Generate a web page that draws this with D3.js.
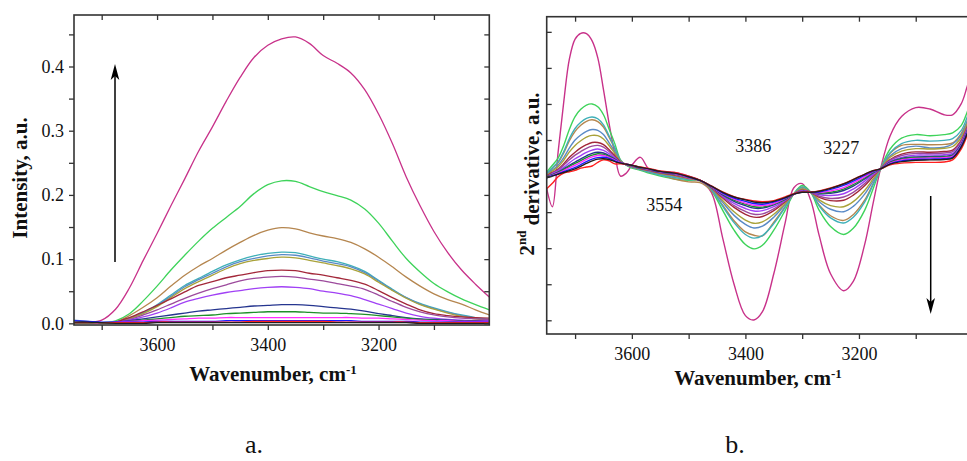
<!DOCTYPE html>
<html>
<head>
<meta charset="utf-8">
<script src="https://cdn.jsdelivr.net/npm/d3@7"></script>
<style>
  html, body { margin: 0; padding: 0; background: #fff; }
  svg { display: block; font-family: "Liberation Serif", "Times New Roman", serif; }
</style>
</head>
<body>
<svg id="fig" width="967" height="461"></svg>
<script>
// ---------- wavenumber grids (cm-1) ----------
const waveA = [3750,3725,3700,3675,3650,3625,3600,3575,3550,3525,3500,3475,3450,3425,3400,3375,
               3350,3325,3300,3275,3250,3225,3200,3175,3150,3125,3100,3075,3050,3025,3000];
const waveB = [3750,3740,3730,3720,3710,3700,3690,3680,3670,3660,3650,3640,3630,3620,3610,3600,
               3585,3570,3550,3525,3500,3480,3460,3440,3420,3400,3385,3370,3350,3330,3315,3300,
               3285,3270,3250,3227,3210,3190,3175,3162,3145,3125,3100,3075,3050,3035,3020,3010,3000];

// ---------- series colours (same order in both panels) ----------
const seriesColors = ["#c8328a","#3ed35a","#b5864f","#3fb0b8","#5a8ac6","#a9a23a","#a3283a","#9c4a9c",
                      "#a040f5","#25358f","#1f8f2a","#ff2cff","#1a1aff","#ff2020","#202020"];

// ---------- panel a: intensity, a.u. ----------
const intens01 = [0.000,0.001,0.005,0.022,0.055,0.098,0.140,0.183,0.225,0.268,0.306,0.346,0.383,0.414,0.433,0.443,
                  0.446,0.436,0.417,0.405,0.390,0.364,0.326,0.280,0.228,0.183,0.143,0.110,0.083,0.061,0.041];
const intens02 = [0,0,0.001,0.004,0.015,0.035,0.058,0.083,0.106,0.128,0.148,0.165,0.182,0.202,0.216,0.222,
                  0.221,0.213,0.205,0.199,0.192,0.178,0.156,0.128,0.101,0.080,0.062,0.049,0.038,0.029,0.021];
const intens03 = [0,0,0,0.002,0.012,0.025,0.040,0.058,0.075,0.089,0.101,0.114,0.126,0.137,0.145,0.149,
                  0.147,0.141,0.136,0.132,0.126,0.116,0.103,0.088,0.072,0.058,0.046,0.037,0.030,0.021,0.013];
const intens04 = [0,0,0,0.002,0.008,0.017,0.029,0.044,0.059,0.070,0.081,0.091,0.099,0.105,0.109,0.111,
                  0.110,0.105,0.100,0.096,0.090,0.081,0.067,0.053,0.040,0.031,0.024,0.018,0.013,0.009,0.006];
const intens05 = [0.005,0.003,0.001,0.002,0.008,0.016,0.028,0.042,0.057,0.068,0.078,0.088,0.096,0.101,0.105,0.107,
                  0.106,0.102,0.097,0.093,0.088,0.079,0.066,0.052,0.040,0.030,0.023,0.017,0.012,0.008,0.005];
const intens06 = [0,0,0,0.001,0.007,0.015,0.026,0.040,0.054,0.065,0.075,0.085,0.093,0.098,0.101,0.103,
                  0.102,0.098,0.094,0.090,0.085,0.077,0.064,0.051,0.039,0.029,0.022,0.016,0.011,0.007,0.005];
const intens07 = [0,0,0,0.002,0.009,0.018,0.028,0.038,0.049,0.059,0.065,0.071,0.075,0.079,0.082,0.083,
                  0.082,0.078,0.075,0.071,0.067,0.061,0.051,0.040,0.030,0.021,0.015,0.012,0.010,0.009,0.008];
const intens08 = [0,0,0,0.001,0.006,0.013,0.021,0.030,0.039,0.047,0.054,0.060,0.066,0.070,0.072,0.073,
                  0.072,0.069,0.066,0.062,0.058,0.053,0.044,0.034,0.025,0.018,0.013,0.010,0.008,0.007,0.006];
const intens09 = [0,0,0,0.001,0.005,0.010,0.016,0.024,0.033,0.039,0.044,0.048,0.051,0.054,0.056,0.057,
                  0.056,0.054,0.050,0.047,0.043,0.037,0.030,0.023,0.016,0.011,0.008,0.006,0.005,0.004,0.004];
const intens10 = [0.001,0.001,0.001,0.002,0.004,0.007,0.010,0.013,0.016,0.019,0.021,0.023,0.025,0.027,0.028,0.029,
                  0.029,0.028,0.026,0.024,0.022,0.019,0.015,0.012,0.009,0.007,0.006,0.005,0.004,0.004,0.003];
const intens11 = [0,0,0,0.001,0.003,0.005,0.007,0.009,0.011,0.012,0.013,0.015,0.016,0.017,0.018,0.018,
                  0.018,0.017,0.016,0.016,0.015,0.014,0.012,0.010,0.008,0.006,0.005,0.004,0.003,0.003,0.002];
const intens12 = [0.001,0.001,0.001,0.002,0.003,0.004,0.005,0.006,0.007,0.008,0.008,0.009,0.009,0.009,0.009,0.009,
                  0.009,0.009,0.009,0.009,0.009,0.008,0.008,0.007,0.006,0.005,0.004,0.004,0.003,0.003,0.003];
const intens13 = [0.004,0.003,0.002,0.002,0.002,0.002,0.003,0.003,0.003,0.003,0.003,0.004,0.004,0.004,0.004,0.004,
                  0.004,0.004,0.004,0.004,0.004,0.003,0.003,0.003,0.003,0.002,0.002,0.002,0.002,0.002,0.002];
const intens14 = [0.001,0.001,0.001,0.001,0.001,0.001,0.002,0.002,0.002,0.002,0.002,0.002,0.002,0.003,0.003,0.003,
                  0.003,0.003,0.003,0.002,0.002,0.002,0.002,0.002,0.002,0.001,0.001,0.001,0.001,0.001,0.001];
const intens15 = [0.002,0.002,0.001,0,0,0,0.001,0.001,0.001,0.001,0.001,0.001,0.001,0.001,0.001,0.001,
                  0.001,0.001,0.001,0.001,0.001,0.001,0.001,0.001,0.001,0,0,0,0,0,0];

// ---------- panel b: second derivative, a.u. ----------
const deriv01 = [-0.35,-0.85,0.65,2.05,3.25,3.80,3.96,3.95,3.75,3.28, 2.40,1.45,0.62,0.00,0.08,0.30,0.52,0.20,0.12,0.10,
                 0.00,-0.12,-0.45,-1.72,-3.00,-3.87,-3.99,-3.76,-2.71,-1.30, -0.33,-0.21,-0.67,-1.65,-2.71,-3.18,-2.92,-1.90,-0.75,0.20,
                 1.12,1.65,1.90,1.86,1.70,1.70,2.00,2.45,3.00];
const deriv02 = [0.11,0.30,0.50,0.85,1.30,1.65,1.85,1.97,2.00,1.92, 1.70,1.30,0.90,0.45,0.30,0.22,0.16,0.08,0.00,-0.08,
                 -0.12,-0.12,-0.40,-0.95,-1.50,-1.90,-2.02,-1.92,-1.50,-0.95, -0.50,-0.26,-0.45,-0.95,-1.40,-1.62,-1.45,-0.95,-0.35,0.20,
                 0.75,1.05,1.15,1.12,1.15,1.20,1.40,1.75,2.20];
const deriv03 = [0.06,0.22,0.37,0.64,0.98,1.24,1.41,1.52,1.56,1.51, 1.36,1.07,0.76,0.43,0.31,0.24,0.18,0.11,0.04,-0.08,
                 -0.16,-0.18,-0.40,-0.81,-1.24,-1.55,-1.64,-1.66,-1.28,-0.85, -0.50,-0.31,-0.45,-0.80,-1.10,-1.23,-1.07,-0.67,-0.21,0.20,
                 0.63,0.85,0.88,0.87,0.88,0.92,1.18,1.50,1.95];
const deriv04 = [0.07,0.23,0.40,0.68,1.04,1.32,1.49,1.60,1.64,1.59, 1.42,1.11,0.79,0.43,0.31,0.24,0.18,0.11,0.03,-0.04,
                 -0.10,-0.12,-0.37,-0.84,-1.29,-1.62,-1.72,-1.65,-1.32,-0.87, -0.50,-0.30,-0.45,-0.83,-1.16,-1.30,-1.14,-0.72,-0.24,0.20,
                 0.65,0.90,0.99,0.97,0.99,1.04,1.26,1.61,2.06];
const deriv05 = [0.04,0.17,0.30,0.51,0.78,1.00,1.14,1.24,1.29,1.27, 1.15,0.92,0.68,0.41,0.31,0.26,0.20,0.13,0.06,-0.01,
                 -0.08,-0.13,-0.35,-0.73,-1.09,-1.34,-1.44,-1.39,-1.14,-0.79, -0.50,-0.35,-0.45,-0.71,-0.92,-0.99,-0.84,-0.50,-0.13,0.20,
                 0.56,0.76,0.83,0.78,0.80,0.89,1.13,1.48,1.93];
const deriv06 = [0.02,0.14,0.25,0.44,0.67,0.85,0.98,1.08,1.13,1.12, 1.03,0.84,0.63,0.40,0.32,0.26,0.20,0.15,0.07,0.01,
                 -0.07,-0.13,-0.33,-0.68,-0.99,-1.22,-1.31,-1.27,-1.06,-0.76, -0.50,-0.36,-0.45,-0.66,-0.82,-0.85,-0.71,-0.40,-0.08,0.20,
                 0.52,0.69,0.76,0.75,0.77,0.82,1.07,1.42,1.87];
const deriv07 = [0.00,0.10,0.19,0.34,0.52,0.66,0.78,0.87,0.93,0.93, 0.87,0.73,0.56,0.39,0.32,0.27,0.21,0.16,0.09,0.03,
                 -0.05,-0.12,-0.32,-0.61,-0.87,-1.06,-1.14,-1.12,-0.96,-0.71, -0.50,-0.39,-0.45,-0.59,-0.68,-0.67,-0.53,-0.27,-0.01,0.20,
                 0.46,0.61,0.67,0.66,0.68,0.72,0.99,1.34,1.79];
const deriv08 = [-0.01,0.08,0.17,0.30,0.45,0.58,0.68,0.77,0.83,0.85, 0.80,0.68,0.53,0.38,0.32,0.28,0.22,0.17,0.10,0.04,
                 -0.05,-0.12,-0.31,-0.58,-0.82,-0.98,-1.06,-1.05,-0.91,-0.69, -0.50,-0.40,-0.45,-0.56,-0.62,-0.58,-0.45,-0.21,0.02,0.20,
                 0.44,0.57,0.63,0.62,0.64,0.68,0.96,1.31,1.76];
const deriv09 = [-0.02,0.06,0.14,0.24,0.37,0.48,0.57,0.66,0.72,0.75, 0.71,0.62,0.50,0.37,0.33,0.28,0.22,0.18,0.11,0.05,
                 -0.04,-0.12,-0.30,-0.55,-0.76,-0.90,-0.97,-0.96,-0.85,-0.67, -0.50,-0.41,-0.45,-0.52,-0.54,-0.49,-0.36,-0.14,0.06,0.20,
                 0.41,0.52,0.58,0.58,0.59,0.63,0.91,1.26,1.71];
const deriv10 = [-0.03,0.04,0.11,0.20,0.30,0.39,0.48,0.56,0.63,0.66, 0.64,0.57,0.47,0.37,0.33,0.29,0.23,0.18,0.11,0.06,
                 -0.03,-0.12,-0.30,-0.52,-0.70,-0.82,-0.89,-0.89,-0.80,-0.65, -0.50,-0.43,-0.45,-0.49,-0.48,-0.40,-0.28,-0.08,0.09,0.20,
                 0.39,0.49,0.53,0.54,0.55,0.59,0.88,1.23,1.68];
const deriv11 = [-0.03,0.03,0.10,0.18,0.27,0.35,0.43,0.51,0.58,0.62, 0.60,0.54,0.45,0.37,0.33,0.29,0.23,0.19,0.12,0.06,
                 -0.03,-0.12,-0.29,-0.50,-0.67,-0.78,-0.85,-0.86,-0.78,-0.64, -0.50,-0.43,-0.45,-0.47,-0.45,-0.36,-0.24,-0.05,0.10,0.20,
                 0.37,0.47,0.51,0.52,0.53,0.57,0.86,1.21,1.66];
const deriv12 = [-0.04,0.02,0.08,0.15,0.23,0.30,0.38,0.46,0.53,0.57, 0.57,0.52,0.44,0.37,0.33,0.30,0.24,0.19,0.12,0.07,
                 -0.03,-0.12,-0.29,-0.49,-0.64,-0.75,-0.81,-0.82,-0.76,-0.62, -0.50,-0.44,-0.45,-0.46,-0.41,-0.32,-0.19,-0.02,0.12,0.20,
                 0.36,0.45,0.49,0.50,0.51,0.55,0.84,1.19,1.64];
const deriv13 = [-0.05,0.01,0.06,0.12,0.18,0.24,0.32,0.40,0.47,0.51, 0.52,0.49,0.42,0.36,0.33,0.30,0.24,0.20,0.13,0.08,
                 -0.02,-0.12,-0.28,-0.47,-0.61,-0.70,-0.76,-0.78,-0.72,-0.61, -0.50,-0.44,-0.45,-0.44,-0.37,-0.26,-0.14,0.02,0.13,0.20,
                 0.34,0.42,0.46,0.47,0.48,0.52,0.82,1.17,1.62];
const deriv14 = [-0.35,-0.20,-0.02,0.08,0.12,0.16,0.22,0.25,0.28,0.38, 0.45,0.42,0.34,0.34,0.33,0.30,0.25,0.21,0.14,0.10,
                 0.00,-0.11,-0.27,-0.44,-0.57,-0.65,-0.69,-0.71,-0.68,-0.58, -0.49,-0.44,-0.44,-0.41,-0.33,-0.21,-0.09,0.05,0.15,0.20,
                 0.31,0.36,0.38,0.38,0.39,0.45,0.75,1.10,1.55];
const deriv15 = [-0.05,0.00,0.05,0.10,0.15,0.20,0.27,0.35,0.42,0.47, 0.48,0.46,0.40,0.36,0.33,0.30,0.24,0.20,0.13,0.08,
                 -0.02,-0.12,-0.28,-0.45,-0.58,-0.66,-0.72,-0.74,-0.70,-0.60, -0.50,-0.45,-0.45,-0.42,-0.34,-0.22,-0.10,0.05,0.15,0.20,
                 0.33,0.40,0.44,0.45,0.46,0.50,0.80,1.15,1.60];

const intensSeries = [intens01,intens02,intens03,intens04,intens05,intens06,intens07,intens08,
                      intens09,intens10,intens11,intens12,intens13,intens14,intens15];
const derivSeries  = [deriv01,deriv02,deriv03,deriv04,deriv05,deriv06,deriv07,deriv08,
                      deriv09,deriv10,deriv11,deriv12,deriv13,deriv14,deriv15];

// ---------- tick values ----------
const xTicks = [3700,3600,3500,3400,3300,3200,3100];
const xTickLabels = [3600,3400,3200];
const yTicksA = [0,0.05,0.1,0.15,0.2,0.25,0.3,0.35,0.4,0.45];
const yTickLabelsA = [0,0.1,0.2,0.3,0.4];
const yTicksB = [-4,-3,-2,-1,0,1,2,3,4];

const svg = d3.select("#fig");
const frameColor = "#333";

function styleAxis(g) {
  g.select(".domain").remove();
  g.selectAll(".tick line").attr("stroke", frameColor).attr("stroke-width", 1.3);
  g.selectAll(".tick text").attr("fill", "#111").style("font-size", "18px")
    .style("font-family", '"Liberation Serif", "Times New Roman", serif');
}

function drawPanel(opt) {
  const { box, x, y, series, waves, yTicks, yLabels, leftOutward, clipId, lineWidth } = opt;
  const g = svg.append("g");

  g.append("clipPath").attr("id", clipId)
    .append("rect").attr("x", box.left).attr("y", box.top)
    .attr("width", box.right - box.left).attr("height", box.bottom - box.top);

  // curves
  const line = d3.line()
    .x((d) => x(d[0]))
    .y((d) => y(d[1]))
    .curve(d3.curveCatmullRom.alpha(0.5));
  const curves = g.append("g").attr("clip-path", `url(#${clipId})`);
  series.forEach((vals, i) => {
    curves.append("path")
      .datum(waves.map((w, j) => [w, vals[j]]))
      .attr("fill", "none")
      .attr("stroke", seriesColors[i])
      .attr("stroke-width", lineWidth)
      .attr("stroke-linejoin", "round")
      .attr("d", line);
  });

  // bottom axis (outward ticks, labels every 200)
  g.append("g").attr("transform", `translate(0,${box.bottom})`)
    .call(d3.axisBottom(x).tickValues(xTicks).tickSize(5).tickPadding(8)
      .tickFormat((d) => (xTickLabels.includes(d) ? d : "")))
    .call(styleAxis);
  // top axis (inward ticks)
  g.append("g").attr("transform", `translate(0,${box.top})`)
    .call(d3.axisBottom(x).tickValues(xTicks).tickSize(5).tickFormat(""))
    .call(styleAxis);
  // left axis
  if (leftOutward) {
    g.append("g").attr("transform", `translate(${box.left},0)`)
      .call(d3.axisLeft(y).tickValues(yTicks).tickSize(5).tickPadding(5)
        .tickFormat((d) => (yLabels.some((v) => Math.abs(v - d) < 1e-9) ? d3.format(".1f")(d) : "")))
      .call(styleAxis);
  } else {
    g.append("g").attr("transform", `translate(${box.left},0)`)
      .call(d3.axisRight(y).tickValues(yTicks).tickSize(5).tickFormat(""))
      .call(styleAxis);
  }
  // right axis (inward ticks)
  g.append("g").attr("transform", `translate(${box.right},0)`)
    .call(d3.axisLeft(y).tickValues(yTicks).tickSize(5).tickFormat(""))
    .call(styleAxis);

  // frame
  g.append("rect")
    .attr("x", box.left).attr("y", box.top)
    .attr("width", box.right - box.left).attr("height", box.bottom - box.top)
    .attr("fill", "none").attr("stroke", frameColor).attr("stroke-width", 1.6);
  return g;
}

// ---------- panel a ----------
const boxA = { left: 74, right: 489.3, top: 15, bottom: 325 };
const xA = d3.scaleLinear().domain([3750, 3000]).range([boxA.left, boxA.right]);
const yA = d3.scaleLinear().domain([-0.0026, 0.4802]).range([boxA.bottom, boxA.top]);
drawPanel({ box: boxA, x: xA, y: yA, series: intensSeries, waves: waveA,
  yTicks: yTicksA, yLabels: yTickLabelsA, leftOutward: true, clipId: "clipA", lineWidth: 1.3 });

// ---------- panel b ----------
const boxB = { left: 546.7, right: 972.5, top: 16.7, bottom: 334 };
const xB = d3.scaleLinear().domain([3750, 3000]).range([boxB.left, boxB.right]);
const yB = d3.scaleLinear().domain([-4.38, 4.42]).range([boxB.bottom, boxB.top]);
drawPanel({ box: boxB, x: xB, y: yB, series: derivSeries, waves: waveB,
  yTicks: yTicksB, yLabels: [], leftOutward: false, clipId: "clipB", lineWidth: 1.4 });

// ---------- axis titles ----------
function xTitle(cx, baseline) {
  const t = svg.append("text").attr("x", cx).attr("y", baseline)
    .attr("text-anchor", "middle").style("font-size", "21px").style("font-weight", "bold")
    .attr("fill", "#111");
  t.append("tspan").text("Wavenumber, cm");
  t.append("tspan").attr("dy", "-0.55em").style("font-size", "13px").text("-1");
}
xTitle(273, 381);
xTitle(758, 385);

svg.append("text")
  .attr("transform", "translate(27,178) rotate(-90)")
  .attr("text-anchor", "middle").style("font-size", "21px").style("font-weight", "bold")
  .attr("fill", "#111").text("Intensity, a.u.");

const yTitleB = svg.append("text")
  .attr("transform", "translate(534,174) rotate(-90)")
  .attr("text-anchor", "middle").style("font-size", "21px").style("font-weight", "bold")
  .attr("fill", "#111");
yTitleB.append("tspan").text("2");
yTitleB.append("tspan").attr("dy", "-0.6em").style("font-size", "13px").text("nd");
yTitleB.append("tspan").attr("dy", "0.6em").text(" derivative, a.u.");

// ---------- band position annotations ----------
const bandLabels = [
  { text: "3386", wn: 3386, y: 152 },
  { text: "3227", wn: 3231, y: 154 },
  { text: "3554", wn: 3543, y: 210.5 }
];
svg.selectAll("text.band").data(bandLabels).enter().append("text")
  .attr("class", "band")
  .attr("x", (d) => xB(d.wn)).attr("y", (d) => d.y)
  .attr("text-anchor", "middle").style("font-size", "18px").attr("fill", "#111")
  .text((d) => d.text);

// ---------- trend arrows ----------
function arrow(x0, yFrom, yTo) {
  const dir = yTo < yFrom ? -1 : 1;
  const headLen = 16, halfW = 4.3, notch = 4;
  svg.append("line")
    .attr("x1", x0).attr("y1", yFrom).attr("x2", x0).attr("y2", yTo - dir * (headLen - notch))
    .attr("stroke", "#000").attr("stroke-width", 1.5);
  svg.append("path")
    .attr("d", `M${x0},${yTo} L${x0 - halfW},${yTo - dir * headLen} L${x0},${yTo - dir * (headLen - notch)} L${x0 + halfW},${yTo - dir * headLen} Z`)
    .attr("fill", "#000");
}
arrow(115, 262, 64);
arrow(930.7, 196, 314);

// ---------- panel letters ----------
svg.append("text").attr("x", 254).attr("y", 453).attr("text-anchor", "middle")
  .style("font-size", "26px").attr("fill", "#111").text("a.");
svg.append("text").attr("x", 735).attr("y", 453).attr("text-anchor", "middle")
  .style("font-size", "26px").attr("fill", "#111").text("b.");
</script>
</body>
</html>
